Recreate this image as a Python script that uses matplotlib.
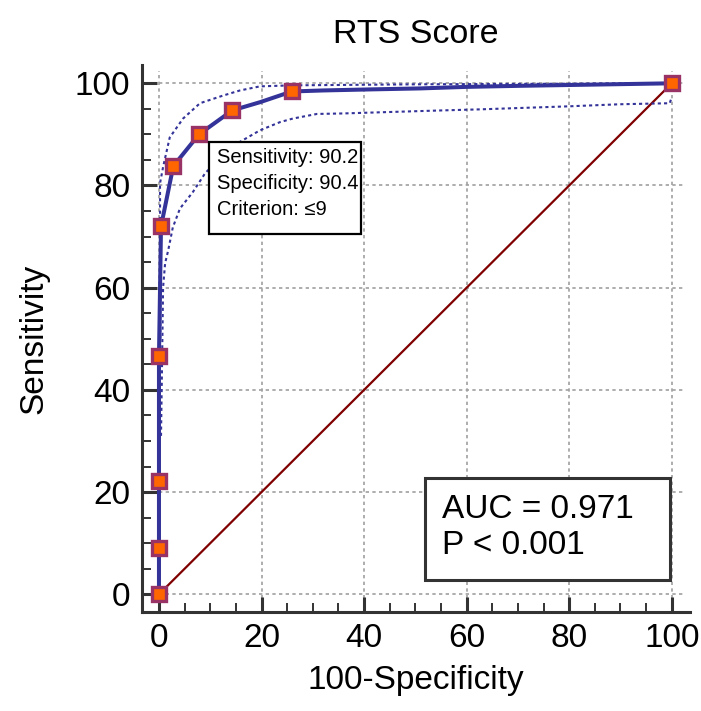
import matplotlib
matplotlib.use('Agg')
import matplotlib.pyplot as plt
from matplotlib.patches import Rectangle

plt.rcParams['font.family'] = ['Liberation Sans', 'DejaVu Sans']

# empirical ROC curve (100-specificity, sensitivity)
roc_fpr = [0, 0, 0, 0, 0.4, 2.8, 7.8, 14.3, 19.7, 25.9, 32, 41, 51, 60, 70, 82, 100]
roc_sens = [0, 9.0, 22.1, 46.6, 72.0, 83.8, 90.0, 94.7, 96.3, 98.4, 98.6, 98.8, 99.0, 99.3, 99.5, 99.7, 100]

# criterion points
pt_fpr = [0, 0, 0, 0, 0.4, 2.8, 7.8, 14.3, 25.9, 100]
pt_sens = [0, 9.0, 22.1, 46.6, 72.0, 83.8, 90.0, 94.7, 98.4, 100]

# 95% confidence bounds
upper_fpr = [0.3, 0.2, 0.8, 2.1, 4.7, 8.0, 12.5, 15.8, 19.7, 26, 50, 75, 100]
upper_sens = [50, 80.4, 83.6, 89.4, 93.1, 96.1, 97.6, 98.6, 99.4, 99.6, 99.8, 99.9, 100]
lower_fpr = [0.4, 0.6, 0.8, 1.2, 1.8, 2.7, 4.1, 6.6, 9.0, 14, 19.7, 23.6, 26.1, 30.8,
             35.9, 45.6, 55.4, 62.6, 80.1, 89.9, 99.6, 100]
lower_sens = [31, 45, 60, 64.8, 67.3, 71.8, 75.5, 78.7, 82.4, 87.5, 90.8, 92.4, 93.1, 94.0,
              94.1, 94.4, 94.7, 94.9, 95.5, 95.9, 96.1, 97.3]

ticks = [0, 20, 40, 60, 80, 100]
box_lines = ['Sensitivity: 90.2', 'Specificity: 90.4', 'Criterion: \u22649']
auc_lines = ['AUC = 0.971', 'P < 0.001']

NAVY = '#333399'
DARK = '#333333'

fig = plt.figure(figsize=(7.01, 7.11), dpi=100)
ax = fig.add_axes([0.2019, 0.139, 0.782, 0.769])
ax.set_xlim(-3.4, 103.5)
ax.set_ylim(-3.5, 103.5)

# grid
for t in ticks:
    ax.hlines(t, 0, 102.5, color='#a0a0a0', lw=1.2, ls=(0, (2, 2)), zorder=1)
    ax.vlines(t, -2, 102.5, color='#a0a0a0', lw=1.2, ls=(0, (2, 2)), zorder=1)

ax.plot([0, 100], [0, 100], color='#800000', lw=1.6, zorder=2)
ax.plot(upper_fpr, upper_sens, color=NAVY, lw=1.5, ls=(0, (1.5, 1.5)), zorder=3)
ax.plot(lower_fpr, lower_sens, color=NAVY, lw=1.5, ls=(0, (1.5, 1.5)), zorder=3)
ax.plot(roc_fpr, roc_sens, color=NAVY, lw=2.9, zorder=4)
ax.plot(pt_fpr, pt_sens, ls='none', marker='s', ms=9.5, mew=2.4,
        mfc='#ff6600', mec='#993366', zorder=5, clip_on=False)

# spines and ticks
for s in ['top', 'right']:
    ax.spines[s].set_visible(False)
for s in ['left', 'bottom']:
    ax.spines[s].set_color(DARK)
    ax.spines[s].set_linewidth(2.2)
ax.set_xticks(ticks)
ax.set_yticks(ticks)
ax.set_xticks(range(0, 101, 5), minor=True)
ax.set_yticks(range(0, 101, 5), minor=True)
ax.tick_params(which='major', direction='in', length=11, width=2.2, color=DARK,
               labelsize=24, pad=8)
ax.tick_params(which='minor', direction='in', length=6.5, width=1.4, color=DARK)

ax.set_xlabel('100-Specificity', fontsize=24, labelpad=8)
ax.set_ylabel('Sensitivity', fontsize=24, labelpad=18)
ax.set_title('RTS Score', fontsize=24.5, pad=16)

# criterion box
ax.add_patch(Rectangle((9.7, 70.6), 29.7, 18.0, facecolor='white', edgecolor='black',
                       lw=1.6, zorder=6))
for i, txt in enumerate(box_lines):
    ax.text(11.3, 85.5 - i * 5.1, txt, fontsize=14.5, va='center', ha='left', zorder=7)

# AUC box
ax.add_patch(Rectangle((51.9, 2.7), 47.7, 20.0, facecolor='white', edgecolor=DARK,
                       lw=2.2, zorder=6))
for i, txt in enumerate(auc_lines):
    ax.text(55.2, 16.5 - i * 7.0, txt, fontsize=24, va='center', ha='left', zorder=7)

fig.savefig('out.png', dpi=100)
